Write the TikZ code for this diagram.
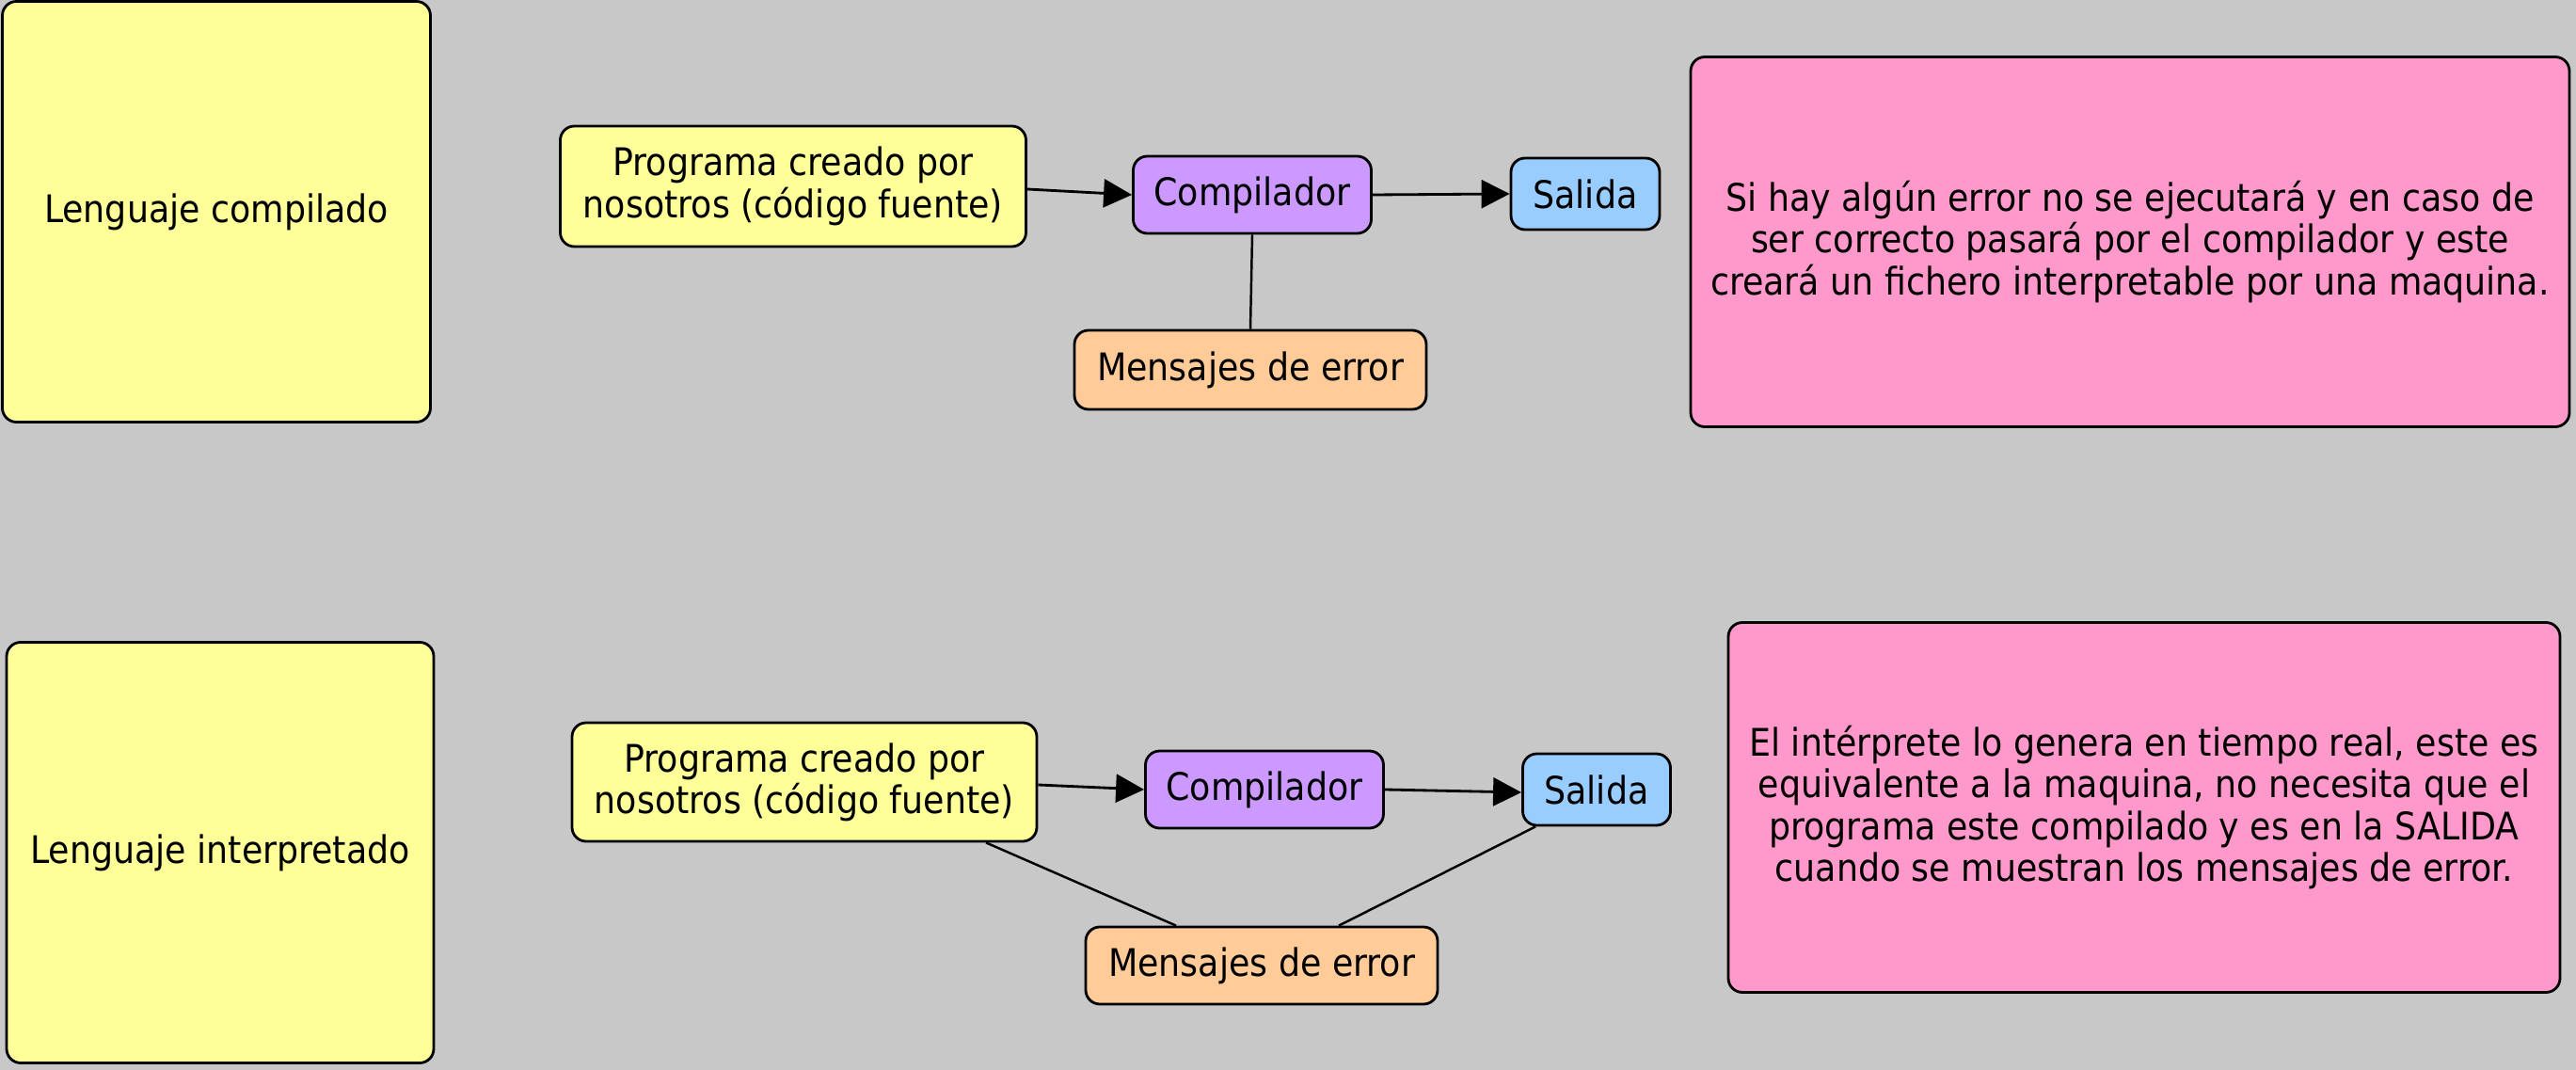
\documentclass[tikz,border=0pt]{standalone}
\usepackage{fontspec}
\setmainfont{DejaVu Sans Condensed}
\usetikzlibrary{arrows.meta,positioning}
\definecolor{fondo}{RGB}{200,200,200}
\definecolor{amarillo}{RGB}{255,255,153}
\definecolor{morado}{RGB}{204,153,255}
\definecolor{celeste}{RGB}{153,204,255}
\definecolor{naranja}{RGB}{255,204,153}
\definecolor{rosa}{RGB}{255,153,204}

\begin{document}
\begin{tikzpicture}[every node/.style={font=\fontsize{11.5}{12.6}\selectfont},
		caja/.style={draw, rounded corners=0.15cm, line width=0.8pt, align=center, inner sep=0pt},
		flecha/.style={line width=0.8pt, -{Triangle[length=0.3cm, width=0.3cm]}},
		linea/.style={line width=0.7pt}]
	\fill[fondo] (0,0) rectangle (27.38,11.37);
	\useasboundingbox (0,0) rectangle (27.38,11.37);
	% lenguaje compilado
	\node[caja, fill=amarillo, minimum width=4.55cm, minimum height=4.47cm] (lc) at (2.30,9.12) {Lenguaje compilado};
	\node[caja, fill=amarillo, minimum width=4.95cm, minimum height=1.28cm] (prog1) at (8.43,9.39) {Programa creado por\\nosotros (código fuente)};
	\node[caja, fill=morado, minimum width=2.53cm, minimum height=0.82cm] (comp1) at (13.31,9.30) {Compilador};
	\node[caja, fill=celeste, minimum width=1.58cm, minimum height=0.76cm] (sal1) at (16.85,9.31) {Salida};
	\node[caja, fill=naranja, minimum width=3.74cm, minimum height=0.84cm] (men1) at (13.29,7.44) {Mensajes de error};
	\node[caja, fill=rosa, minimum width=9.34cm, minimum height=3.93cm] (nota1) at (22.64,8.80) {Si hay algún error no se ejecutará y en caso de\\ser correcto pasará por el compilador y este\\creará un fichero interpretable por una maquina.};
	\draw[flecha] ([yshift=-0.03cm]prog1.east) -- (comp1.west);
	\draw[flecha] (comp1.east) -- (sal1.west);
	\draw[linea] (comp1.south) -- (men1.north);
	% lenguaje interpretado
	\node[caja, fill=amarillo, minimum width=4.54cm, minimum height=4.47cm] (li) at (2.34,2.31) {Lenguaje interpretado};
	\node[caja, fill=amarillo, minimum width=4.94cm, minimum height=1.26cm] (prog2) at (8.55,3.06) {Programa creado por\\nosotros (código fuente)};
	\node[caja, fill=morado, minimum width=2.53cm, minimum height=0.82cm] (comp2) at (13.44,2.98) {Compilador};
	\node[caja, fill=celeste, minimum width=1.57cm, minimum height=0.76cm] (sal2) at (16.97,2.98) {Salida};
	\node[caja, fill=naranja, minimum width=3.74cm, minimum height=0.82cm] (men2) at (13.41,1.11) {Mensajes de error};
	\node[caja, fill=rosa, minimum width=8.84cm, minimum height=3.93cm] (nota2) at (22.79,2.79) {El intérprete lo genera en tiempo real, este es\\equivalente a la maquina, no necesita que el\\programa este compilado y es en la SALIDA\\cuando se muestran los mensajes de error.};
	\draw[flecha] ([yshift=-0.03cm]prog2.east) -- (comp2.west);
	\draw[flecha] (comp2.east) -- ([yshift=-0.03cm]sal2.west);
	\draw[linea] ([xshift=1.93cm]prog2.south) -- ([xshift=-0.91cm]men2.north);
	\draw[linea] ([xshift=0.15cm]sal2.south west) -- ([xshift=0.82cm]men2.north);
\end{tikzpicture}
\end{document}
